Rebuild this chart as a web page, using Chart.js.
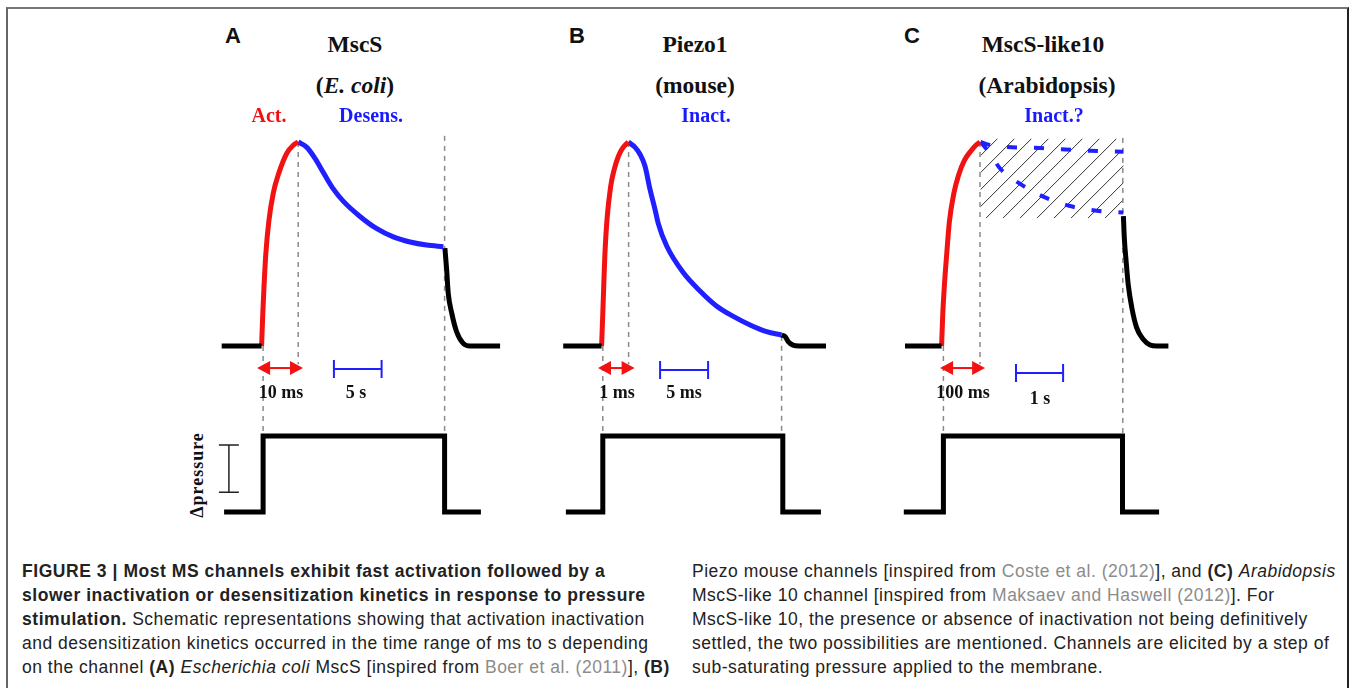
<!DOCTYPE html>
<html>
<head>
<meta charset="utf-8">
<script src="https://cdn.jsdelivr.net/npm/chart.js@4.4.1/dist/chart.umd.min.js"></script>
<style>
  html,body{margin:0;padding:0;background:#fff;}
  body{width:1349px;height:688px;position:relative;overflow:hidden;}
  #frame{position:absolute;left:6px;top:7px;width:1339px;height:700px;border-top:2px solid #777;border-left:2px solid #666;border-right:2px solid #222;}
  canvas.panel{position:absolute;top:101px;}
  .t{position:absolute;transform:translate(-50%,-50%);white-space:nowrap;line-height:1;}
  .serif{font-family:"Liberation Serif","DejaVu Serif",serif;font-weight:bold;color:#111;}
  .title{font-size:23.5px;}
  .sub{font-size:20px;}
  .scale{font-size:18px;}
  .letter{font-family:"Liberation Sans",Arial,sans-serif;font-weight:bold;font-size:22px;color:#111;}
  .red{color:#f01010;} .blue{color:#1a1aff;}
  .cap{position:absolute;top:559px;font-family:"Liberation Sans",Arial,sans-serif;font-size:17.5px;letter-spacing:0.5px;line-height:24px;color:#222;}
  .cap div{white-space:nowrap;}
  .cap b{letter-spacing:0.55px;}
  .g{color:#8c8c8c;}
</style>
</head>
<body>
<div id="frame"></div>

<canvas id="cA" class="panel" width="300" height="428" style="left:210px"></canvas>
<canvas id="cB" class="panel" width="300" height="428" style="left:550px"></canvas>
<canvas id="cC" class="panel" width="300" height="428" style="left:890px"></canvas>

<div class="t letter" style="left:233px;top:36px">A</div>
<div class="t letter" style="left:577px;top:36px">B</div>
<div class="t letter" style="left:912px;top:36px">C</div>

<div class="t serif title" style="left:355px;top:45px">MscS</div>
<div class="t serif title" style="left:355px;top:86px">(<i>E. coli</i>)</div>
<div class="t serif sub red" style="left:269px;top:115px">Act.</div>
<div class="t serif sub blue" style="left:371px;top:115px">Desens.</div>

<div class="t serif title" style="left:695px;top:45px">Piezo1</div>
<div class="t serif title" style="left:695px;top:86px">(mouse)</div>
<div class="t serif sub blue" style="left:706px;top:115px">Inact.</div>

<div class="t serif title" style="left:1043px;top:45px">MscS-like10</div>
<div class="t serif title" style="left:1047px;top:86px">(Arabidopsis)</div>
<div class="t serif sub blue" style="left:1054px;top:115px">Inact.?</div>

<div class="t serif scale" style="left:281px;top:392px">10 ms</div>
<div class="t serif scale" style="left:356px;top:392px">5 s</div>
<div class="t serif scale" style="left:617px;top:392px">1 ms</div>
<div class="t serif scale" style="left:684px;top:392px">5 ms</div>
<div class="t serif scale" style="left:963px;top:392px">100 ms</div>
<div class="t serif scale" style="left:1040px;top:398px">1 s</div>

<div class="t serif scale" style="left:197px;top:475px;transform:translate(-50%,-50%) rotate(-90deg);letter-spacing:1px;font-weight:bold">Δpressure</div>

<div class="cap" style="left:22px">
  <div><b>FIGURE 3 | Most MS channels exhibit fast activation followed by a</b></div>
  <div><b>slower inactivation or desensitization kinetics in response to pressure</b></div>
  <div><b>stimulation.</b> Schematic representations showing that activation inactivation</div>
  <div>and desensitization kinetics occurred in the time range of ms to s depending</div>
  <div>on the channel <b>(A)</b> <i>Escherichia coli</i> MscS [inspired from <span class="g">Boer et al. (2011)</span>], <b>(B)</b></div>
</div>
<div class="cap" style="left:692px">
  <div>Piezo mouse channels [inspired from <span class="g">Coste et al. (2012)</span>], and <b>(C)</b> <i>Arabidopsis</i></div>
  <div>MscS-like 10 channel [inspired from <span class="g">Maksaev and Haswell (2012)</span>]. For</div>
  <div>MscS-like 10, the presence or absence of inactivation not being definitively</div>
  <div>settled, the two possibilities are mentioned. Channels are elicited by a step of</div>
  <div>sub-saturating pressure applied to the membrane.</div>
</div>

<script>
// ---------- DATA (schematic time in panel units 0-100, current normalised to peak = 1, pressure 0/1) ----------
// Panel A : MscS (E. coli)
const A_base     = [[3.9,0],[17.2,0]];
const A_act      = [[17.2,0],[17.6,0.16],[18.0,0.29],[18.6,0.45],[19.6,0.61],[21.1,0.75],[23.0,0.85],[25.6,0.945],[27.8,0.985],[29.4,1.0]];
const A_desens   = [[29.4,1.0],[32.2,0.975],[35.0,0.92],[37.8,0.85],[41.1,0.77],[44.4,0.71],[50.0,0.635],[55.6,0.575],[61.1,0.535],[66.7,0.51],[72.2,0.495],[77.8,0.487]];
const A_close    = [[78.3,0.48],[78.9,0.37],[79.4,0.26],[80.6,0.16],[82.2,0.07],[84.4,0.013],[86.7,0],[96.7,0]];
const A_pressure = [[4.7,0],[17.7,0],[17.7,1],[78.2,1],[78.2,0],[90.3,0]];
const A_times    = {onset:17.7, peak:29.4, off:78.2};
const A_fastBar  = [15.7,31.0];   // "10 ms"
const A_slowBar  = [41.3,57.2];   // "5 s"

// Panel B : Piezo1 (mouse)
const B_base     = [[4.4,0],[17.2,0]];
const B_act      = [[17.2,0],[17.6,0.16],[17.9,0.29],[18.3,0.45],[19.0,0.62],[20.2,0.78],[21.3,0.86],[22.8,0.93],[24.2,0.97],[26.1,1.0]];
const B_inact    = [[26.1,1.0],[28.3,0.975],[30.0,0.94],[31.7,0.88],[33.3,0.77],[35.0,0.67],[36.1,0.60],[38.9,0.49],[44.4,0.36],[50.0,0.27],[55.6,0.195],[61.1,0.145],[66.7,0.103],[72.2,0.07],[77.2,0.054]];
const B_close    = [[77.2,0.054],[78.4,0.046],[79.4,0.021],[81.0,0.004],[83.0,0],[92.0,0]];
const B_pressure = [[5.3,0],[17.6,0],[17.6,1],[77.6,1],[77.6,0],[90.3,0]];
const B_times    = {onset:17.6, peak:26.2, off:77.2};
const B_fastBar  = [16.0,28.2];   // "1 ms"
const B_slowBar  = [36.7,52.7];   // "5 ms"

// Panel C : MscS-like10 (Arabidopsis)
const C_base     = [[5.0,0],[17.2,0]];
const C_act      = [[17.2,0],[17.6,0.16],[18.1,0.29],[18.9,0.45],[19.8,0.61],[21.3,0.75],[22.9,0.84],[24.8,0.91],[26.9,0.955],[28.7,0.985],[30.0,1.0]];
const C_noInact  = [[30.2,1.0],[33.3,0.985],[50.0,0.97],[66.7,0.957],[77.8,0.952]];
const C_inact    = [[30.2,1.0],[33.3,0.944],[36.7,0.87],[43.9,0.79],[51.1,0.732],[60.0,0.686],[68.9,0.663],[77.8,0.654]];
const C_close    = [[77.8,0.637],[78.1,0.531],[78.7,0.417],[79.4,0.302],[80.6,0.188],[82.2,0.09],[84.4,0.033],[86.7,0.005],[88.9,0],[92.8,0]];
const C_pressure = [[4.6,0],[17.8,0],[17.8,1],[77.5,1],[77.5,0],[89.7,0]];
const C_times    = {onset:17.8, peak:30.0, off:77.6};
const C_fastBar  = [16.7,31.7];   // "100 ms"
const C_slowBar  = [42.0,57.7];   // "1 s"
const C_hatch    = {t0:30.2, t1:77.8, v0:0.626, v1:1.017};

// ---------- LAYOUT helpers ----------
const H = 428;                         // canvas height
function range(v0,p0,v1,p1){           // value->pixel anchors inside canvas
  const k=(p0-p1)/(v1-v0);
  const max=v0+p0/k;
  return {min:max-H/k, max:max};
}
const rI = range(0,245,1,41);          // current axis
const rP = range(0,411,1,335);         // pressure axis
const xy = a => a.map(p=>({x:p[0],y:p[1]}));

const RED='#f21212', BLUE='#1f1fff', BLACK='#000';

function line(d,color,axis,opts){
  return Object.assign({data:xy(d),yAxisID:axis,xAxisID:'x',showLine:true,borderColor:color,backgroundColor:color,
    borderWidth:5,pointRadius:0,fill:false,cubicInterpolationMode:'monotone',clip:false},opts||{});
}

const overlay={
  id:'overlay',
  beforeDatasetsDraw(chart,args,o){
    const c=chart.ctx, X=chart.scales.x, I=chart.scales.yI, P=chart.scales.yP;
    if(o.hatch){
      const h=o.hatch, l=X.getPixelForValue(h.t0), r=X.getPixelForValue(h.t1),
            t=I.getPixelForValue(h.v1), b=I.getPixelForValue(h.v0);
      c.save(); c.beginPath(); c.rect(l,t,r-l,b-t); c.clip();
      c.strokeStyle='#333'; c.lineWidth=1;
      for(let s=l-(b-t); s<r+ (b-t); s+=17){
        c.beginPath(); c.moveTo(s,b); c.lineTo(s+(b-t),t); c.stroke();
      }
      c.restore();
    }
    c.save(); c.strokeStyle='#8a8a8a'; c.lineWidth=1.5; c.setLineDash([5,5]);
    for(const g of o.guides){
      const x=X.getPixelForValue(g.t);
      const y0=(g.a0==='yP'?P:I).getPixelForValue(g.v0);
      const y1=(g.a1==='yP'?P:I).getPixelForValue(g.v1);
      c.beginPath(); c.moveTo(x,y0); c.lineTo(x,y1); c.stroke();
    }
    c.restore();
  },
  afterDatasetsDraw(chart,args,o){
    const c=chart.ctx, X=chart.scales.x, I=chart.scales.yI, P=chart.scales.yP;
    // red double arrow
    const ax0=X.getPixelForValue(o.arrow[0]), ax1=X.getPixelForValue(o.arrow[1]), ay=I.getPixelForValue(o.arrowV);
    c.save(); c.fillStyle=RED; c.strokeStyle=RED; c.lineWidth=2;
    c.beginPath(); c.moveTo(ax0+8,ay); c.lineTo(ax1-8,ay); c.stroke();
    const hl=13, hh=7;
    c.beginPath(); c.moveTo(ax0,ay); c.lineTo(ax0+hl,ay-hh); c.lineTo(ax0+hl,ay+hh); c.closePath(); c.fill();
    c.beginPath(); c.moveTo(ax1,ay); c.lineTo(ax1-hl,ay-hh); c.lineTo(ax1-hl,ay+hh); c.closePath(); c.fill();
    c.restore();
    // blue time bar
    const bx0=X.getPixelForValue(o.bar[0]), bx1=X.getPixelForValue(o.bar[1]), by=I.getPixelForValue(o.barV);
    c.save(); c.strokeStyle=BLUE; c.lineWidth=2;
    c.beginPath(); c.moveTo(bx0,by); c.lineTo(bx1,by);
    c.moveTo(bx0,by-9); c.lineTo(bx0,by+9); c.moveTo(bx1,by-9); c.lineTo(bx1,by+9); c.stroke();
    c.restore();
    // pressure scale bar
    if(o.pbar){
      const px=X.getPixelForValue(o.pbar.t), p0=P.getPixelForValue(o.pbar.v0), p1=P.getPixelForValue(o.pbar.v1);
      c.save(); c.strokeStyle='#222'; c.lineWidth=1.5;
      c.beginPath(); c.moveTo(px,p0); c.lineTo(px,p1);
      c.moveTo(px-10,p0); c.lineTo(px+10,p0); c.moveTo(px-10,p1); c.lineTo(px+10,p1); c.stroke();
      c.restore();
    }
  }
};

function make(id,datasets,ov){
  return new Chart(document.getElementById(id),{
    type:'scatter',
    data:{datasets},
    options:{
      responsive:false, animation:false, devicePixelRatio:1,
      layout:{padding:0},
      plugins:{legend:{display:false},tooltip:{enabled:false},overlay:ov},
      scales:{
        x:{type:'linear',min:0,max:100,display:false},
        yI:{type:'linear',min:rI.min,max:rI.max,display:false},
        yP:{type:'linear',min:rP.min,max:rP.max,display:false}
      }
    },
    plugins:[overlay]
  });
}

make('cA',[
  line(A_base,BLACK,'yI'), line(A_act,RED,'yI'), line(A_desens,BLUE,'yI'), line(A_close,BLACK,'yI'),
  line(A_pressure,BLACK,'yP',{cubicInterpolationMode:'default',tension:0,borderJoinStyle:'miter'})
],{
  guides:[{t:A_times.onset,a0:'yI',v0:0,a1:'yP',v1:1},{t:A_times.peak,a0:'yI',v0:1,a1:'yI',v1:-0.09},{t:A_times.off,a0:'yI',v0:1.03,a1:'yP',v1:1}],
  arrow:A_fastBar, arrowV:-0.108, bar:A_slowBar, barV:-0.113,
  pbar:{t:6.3,v0:0.88,v1:0.26}
});

make('cB',[
  line(B_base,BLACK,'yI'), line(B_act,RED,'yI'), line(B_inact,BLUE,'yI'), line(B_close,BLACK,'yI'),
  line(B_pressure,BLACK,'yP',{cubicInterpolationMode:'default',tension:0,borderJoinStyle:'miter'})
],{
  guides:[{t:B_times.onset,a0:'yI',v0:0,a1:'yP',v1:1},{t:B_times.peak,a0:'yI',v0:1,a1:'yI',v1:-0.09},{t:B_times.off,a0:'yI',v0:0.05,a1:'yP',v1:1}],
  arrow:B_fastBar, arrowV:-0.108, bar:B_slowBar, barV:-0.118
});

make('cC',[
  line(C_base,BLACK,'yI'), line(C_act,RED,'yI'),
  line(C_noInact,BLUE,'yI',{borderWidth:4,borderDash:[10,17]}),
  line(C_inact,BLUE,'yI',{borderWidth:4,borderDash:[10,17]}),
  line(C_close,BLACK,'yI'),
  line(C_pressure,BLACK,'yP',{cubicInterpolationMode:'default',tension:0,borderJoinStyle:'miter'})
],{
  hatch:C_hatch,
  guides:[{t:C_times.onset,a0:'yI',v0:0,a1:'yP',v1:1},{t:C_times.peak,a0:'yI',v0:1,a1:'yI',v1:-0.09},{t:C_times.off,a0:'yI',v0:1.02,a1:'yP',v1:1}],
  arrow:C_fastBar, arrowV:-0.108, bar:C_slowBar, barV:-0.132
});
</script>
</body>
</html>
